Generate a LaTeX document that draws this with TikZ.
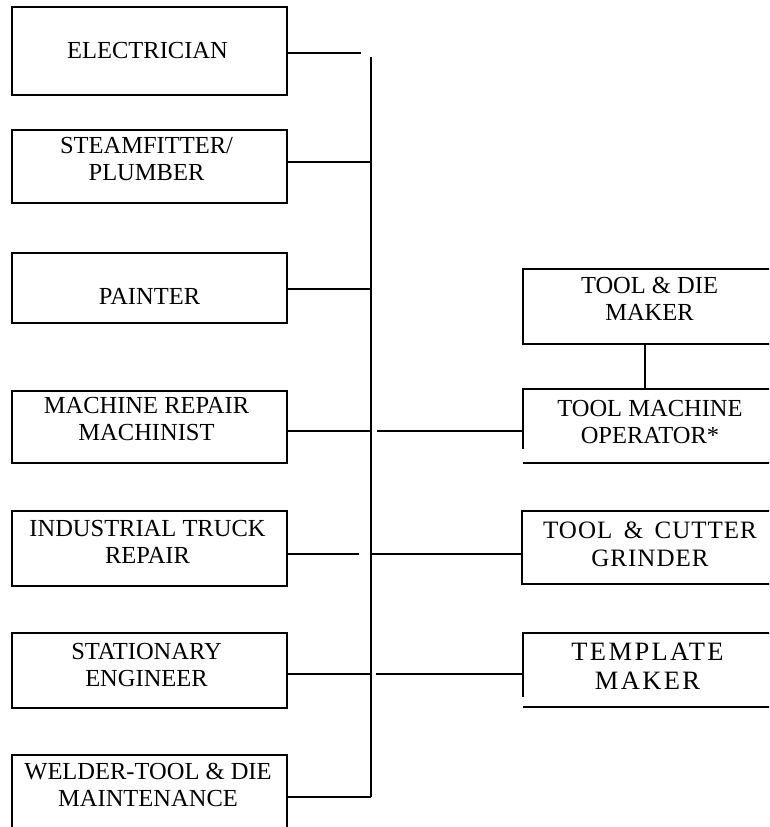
\documentclass[tikz,border=0pt]{standalone}
\usepackage{fontspec}
\setmainfont{Liberation Serif}
\begin{document}
\begin{tikzpicture}[x=1pt,y=-1pt,
  box/.style={draw, line width=2pt, inner sep=0pt, minimum width=275pt},
  rbox/.style={draw, line width=2pt, inner sep=0pt, minimum width=278pt},
  lbl/.style={align=center, inner sep=0pt, font=\fontsize{24.5}{27}\selectfont},
  conn/.style={line width=2pt}]
\useasboundingbox (0,0) rectangle (769,827);
\clip (0,0) rectangle (769,827);
% left boxes
\node[box, minimum height=88pt] (elec) at (149.5,51) {};
\node[lbl] (elecT) at (147.5,51) {ELECTRICIAN};
\node[box, minimum height=73pt] (steam) at (149.5,166.5) {};
\node[lbl] (steamT) at (146.5,159.5) {STEAMFITTER/\\PLUMBER};
\node[box, minimum height=70pt] (paint) at (149.5,288) {};
\node[lbl] (paintT) at (149.5,296) {PAINTER};
\node[box, minimum height=72pt] (mach) at (149.5,427) {};
\node[lbl] (machT) at (146.5,419.5) {MACHINE REPAIR\\MACHINIST};
\node[box, minimum height=75pt] (ind) at (149.5,548.5) {};
\node[lbl] (indT) at (147.5,541.5) {INDUSTRIAL TRUCK\\REPAIR};
\node[box, minimum height=75pt] (stat) at (149.5,670.5) {};
\node[lbl] (statT) at (146.5,665) {STATIONARY\\ENGINEER};
\coordinate (wA) at (12,840);
\coordinate (wB) at (287,840);
\draw[line width=2pt] (wA) |- (287,755) -- (wB);
\node[lbl] (weldT) at (148,784.5) {WELDER-TOOL \& DIE\\MAINTENANCE};
% right boxes
\node[rbox, minimum height=75pt] (tdm) at (662,306.5) {};
\node[lbl] (tdmT) at (649.5,299) {TOOL \& DIE\\MAKER};
\coordinate (tmoA) at (800,389);
\coordinate (tmoB) at (523,389);
\coordinate (tmoC) at (523,449);
\coordinate (tmoD) at (523,463);
\coordinate (tmoE) at (800,463);
\coordinate (tmoTop) at (645,389);
\draw[line width=2pt] (tmoA) -- (tmoB) -- (tmoC);
\draw[line width=2pt] (tmoD) -- (tmoE);
\node[lbl] (tmoT) at (650,422) {TOOL MACHINE\\OPERATOR*};
\node[rbox, minimum height=73pt] (tcg) at (661,547.5) {};
\node[lbl, font=\fontsize{25}{28}\selectfont\addfontfeatures{LetterSpace=4}] (tcgT) at (650,544.5) {TOOL \,\&\, CUTTER\\GRINDER};
\coordinate (tmA) at (800,633);
\coordinate (tmB) at (523,633);
\coordinate (tmC) at (523,697);
\coordinate (tmD) at (523,707);
\coordinate (tmE) at (800,707);
\draw[line width=2pt] (tmA) -- (tmB) -- (tmC);
\draw[line width=2pt] (tmD) -- (tmE);
\node[lbl, font=\fontsize{26.5}{29}\selectfont\addfontfeatures{LetterSpace=9}] (tmT) at (647.5,666) {TEMPLATE\\MAKER};
% bus
\coordinate (busTop) at (371,57);
\coordinate (busBot) at (371,797);
\draw[conn] (busTop) -- (busBot);
% connectors
\coordinate (e1) at (287,53);  \coordinate (e2) at (361,53);
\draw[conn] (e1) -- (e2);
\coordinate (s1) at (287,162);
\draw[conn] (s1) -- (s1 -| busTop);
\coordinate (p1) at (287,289);
\draw[conn] (p1) -- (p1 -| busTop);
\coordinate (m1) at (287,431); \coordinate (m2) at (377,431);
\draw[conn] (m1) -- (m1 -| busTop);
\draw[conn] (m2) -- (m2 -| tmoB);
\coordinate (i1) at (287,554); \coordinate (i2) at (359,554);
\draw[conn] (i1) -- (i2);
\draw[conn] (i1 -| busTop) -- (i1 -| tcg.west);
\coordinate (t1) at (287,674); \coordinate (t2) at (376,674);
\draw[conn] (t1) -- (t1 -| busTop);
\draw[conn] (t2) -- (t2 -| tmB);
\coordinate (w1) at (287,797);
\draw[conn] (w1) -- (busBot);
\draw[conn] (tdm.south -| tmoTop) -- (tmoTop);
\end{tikzpicture}
\end{document}
